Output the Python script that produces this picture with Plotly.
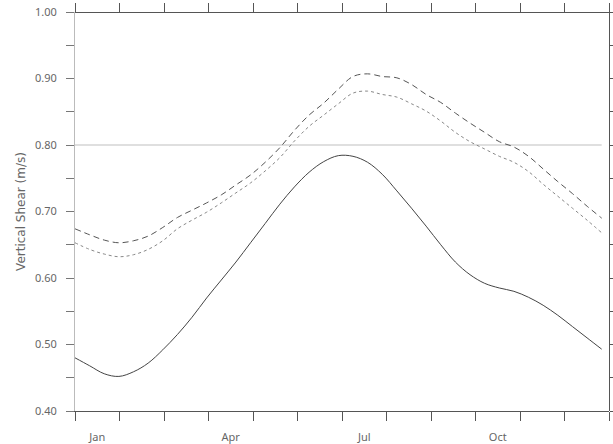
import plotly.graph_objects as go

# pentad index (0..72), every 2 pentads
pentads = list(range(0, 73, 2))

solid_vals = [0.480, 0.468, 0.456, 0.452, 0.459, 0.472, 0.492, 0.515, 0.541, 0.570,
              0.597, 0.624, 0.653, 0.682, 0.711, 0.737, 0.759, 0.775, 0.784, 0.783,
              0.774, 0.756, 0.731, 0.705, 0.678, 0.650, 0.624, 0.605, 0.592, 0.585,
              0.580, 0.571, 0.559, 0.544, 0.527, 0.510, 0.493]

dashed_vals = [0.674, 0.665, 0.657, 0.653, 0.656, 0.663, 0.676, 0.691, 0.702, 0.713,
               0.725, 0.740, 0.755, 0.774, 0.796, 0.822, 0.845, 0.863, 0.884, 0.903,
               0.907, 0.903, 0.901, 0.891, 0.876, 0.864, 0.848, 0.833, 0.819, 0.805,
               0.797, 0.783, 0.764, 0.745, 0.727, 0.708, 0.690]

dotted_vals = [0.653, 0.643, 0.636, 0.632, 0.635, 0.643, 0.656, 0.674, 0.687, 0.699,
               0.713, 0.728, 0.743, 0.761, 0.781, 0.806, 0.828, 0.845, 0.862, 0.878,
               0.881, 0.876, 0.872, 0.862, 0.851, 0.836, 0.819, 0.805, 0.794, 0.783,
               0.774, 0.760, 0.741, 0.723, 0.705, 0.687, 0.668]

ref_level = 0.80
n_pentads = 73
month_labels = ["Jan", "Apr", "Jul", "Oct"]
month_label_idx = [0, 3, 6, 9]
y_ticks = [round(0.40 + 0.05 * k, 2) for k in range(13)]
y_ticktext = [f"{v:.2f}" if k % 2 == 0 else "" for k, v in enumerate(y_ticks)]

month_bounds = [m * n_pentads / 12 for m in range(13)]
month_centers = [(m + 0.5) * n_pentads / 12 for m in month_label_idx]

FONT = "Noto Sans"
FRAME = "#555555"
X_TOP = 534 / 538   # plot-area right edge as a fraction of the paper width
Y_TOP = 399 / 408   # plot-area top edge as a fraction of the paper height

fig = go.Figure()

fig.add_trace(go.Scatter(x=[pentads[0], pentads[-1]], y=[ref_level, ref_level], mode="lines",
                         line=dict(color="#c0c0c0", width=1.2), showlegend=False, hoverinfo="skip"))
fig.add_trace(go.Scatter(x=pentads, y=dotted_vals, mode="lines", line_shape="spline",
                         line=dict(color="#888888", width=1, dash="dot"), showlegend=False))
fig.add_trace(go.Scatter(x=pentads, y=dashed_vals, mode="lines", line_shape="spline",
                         line=dict(color="#555555", width=1, dash="6px,4px"), showlegend=False))
fig.add_trace(go.Scatter(x=pentads, y=solid_vals, mode="lines", line_shape="spline",
                         line=dict(color="#444444", width=1), showlegend=False))
# helper traces to bind the secondary axes
fig.add_trace(go.Scatter(x=[pentads[0]], y=[ref_level], xaxis="x2", yaxis="y2", mode="markers",
                         marker=dict(opacity=0), showlegend=False, hoverinfo="skip"))
fig.add_trace(go.Scatter(x=[pentads[0]], y=[ref_level], xaxis="x3", yaxis="y", mode="markers",
                         marker=dict(opacity=0), showlegend=False, hoverinfo="skip"))

fig.update_layout(
    width=613, height=444,
    margin=dict(l=75, r=0, t=3, b=33),
    paper_bgcolor="white", plot_bgcolor="white",
    font=dict(family=FONT, size=11, color="#666666"),
    xaxis=dict(domain=[0, X_TOP], range=[0, n_pentads], tickvals=month_bounds,
               showticklabels=False, ticks="outside", ticklen=9, tickcolor=FRAME, tickwidth=1,
               showline=True, linecolor=FRAME, linewidth=1,
               showgrid=False, zeroline=False, automargin=False),
    xaxis2=dict(range=[0, n_pentads], overlaying="x", side="bottom", tickvals=month_centers,
                ticktext=month_labels, ticks="outside", ticklen=16, tickcolor="rgba(0,0,0,0)",
                showline=False, showgrid=False, zeroline=False, automargin=False,
                tickfont=dict(family=FONT, size=11, color="#666666")),
    xaxis3=dict(range=[0, n_pentads], overlaying="x", side="top", anchor="free",
                position=Y_TOP, tickvals=month_bounds,
                showticklabels=False, ticks="outside", ticklen=9, tickcolor=FRAME, tickwidth=1,
                showline=True, linecolor=FRAME, linewidth=1,
                showgrid=False, zeroline=False, automargin=False),
    yaxis=dict(domain=[0, Y_TOP], range=[0.40, 1.00], tickvals=y_ticks, ticktext=y_ticktext,
               ticks="outside", ticklen=8, tickcolor="#777777", tickwidth=1,
               showline=True, linecolor="#bbbbbb", linewidth=1,
               showgrid=False, zeroline=False, ticklabelstandoff=7, automargin=False,
               tickfont=dict(family=FONT, size=11, color="#666666"),
               title=dict(text="Vertical Shear (m/s)", standoff=6,
                          font=dict(family="DejaVu Sans", size=12, color="#666666"))),
    yaxis2=dict(range=[0.40, 1.00], overlaying="y", side="right", anchor="free",
                position=X_TOP, tickvals=y_ticks,
                showticklabels=False, ticks="outside", ticklen=8, tickcolor=FRAME,
                showline=True, linecolor=FRAME, linewidth=1,
                showgrid=False, zeroline=False, automargin=False),
)

fig.write_html(
    "out.html",
    config={"displayModeBar": False},
    post_script="document.body.style.margin='0';",
)
